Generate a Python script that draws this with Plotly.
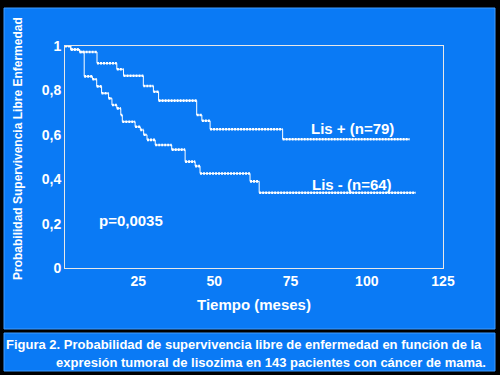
import plotly.graph_objects as go

# ---- data ----
lis_pos_t = [0, 2.9, 5.8, 11.5, 18.0, 20.2, 26.7, 30.0, 31.7, 44.2, 45.9, 48.6, 72.4, 114]
lis_pos_s = [1.0, 0.984, 0.973, 0.922, 0.895, 0.866, 0.820, 0.794, 0.754, 0.689, 0.663, 0.625, 0.580, 0.580]

lis_neg_t = [0, 2.9, 5.8, 7.3, 10.0, 11.4, 13.0, 15.3, 16.4, 18.0, 19.3, 19.8, 24.0, 25.7,
             26.8, 27.9, 30.6, 36.0, 40.4, 43.7, 45.3, 61.7, 64.7, 116]
lis_neg_s = [1.0, 0.984, 0.973, 0.863, 0.850, 0.818, 0.787, 0.764, 0.734, 0.719, 0.689, 0.659,
             0.636, 0.622, 0.600, 0.577, 0.554, 0.533, 0.479, 0.459, 0.426, 0.390, 0.339, 0.339]

x_ticks = [25, 50, 75, 100, 125]
y_ticks = [0, 0.2, 0.4, 0.6, 0.8, 1]
y_ticktext = ["0", "0,2", "0,4", "0,6", "0,8", "1"]

label_pos = "Lis + (n=79)"
label_neg = "Lis - (n=64)"
p_text = "p=0,0035"
x_title = "Tiempo (meses)"
y_title = "Probabilidad Supervivencia Libre Enfermedad"
caption1 = "Figura 2. Probabilidad de supervivencia libre de enfermedad en función de la"
caption2 = "expresión tumoral de lisozima en 143 pacientes con cáncer de mama."

# ---- layout geometry (pixels) ----
W, H = 500, 375
L, R, T, B = 65, 443, 46, 268
PW, PH = R - L, B - T


def px(x):
    return (x - L) / PW


def py(y):
    return (B - y) / PH


FONT = "Arial, Liberation Sans, sans-serif"
BLUE = "#0a7af5"
WHITE = "#ffffff"

fig = go.Figure()


def add_curve(t, s):
    fig.add_trace(go.Scatter(x=t, y=s, mode="lines", line=dict(color=WHITE, width=1, shape="hv"),
                             hoverinfo="skip", showlegend=False))
    hx, hy = [], []
    for i in range(len(t) - 1):
        hx += [t[i], t[i + 1], None]
        hy += [s[i], s[i], None]
    fig.add_trace(go.Scatter(x=hx, y=hy, mode="lines",
                             line=dict(color=WHITE, width=2.6, dash="2px,1px"),
                             hoverinfo="skip", showlegend=False))


add_curve(lis_pos_t, lis_pos_s)
add_curve(lis_neg_t, lis_neg_s)

shapes = [
    dict(type="rect", xref="paper", yref="paper", x0=px(4), x1=px(495), y0=py(329), y1=py(8),
         fillcolor=BLUE, line=dict(color="#3f9bff", width=1), layer="below"),
    dict(type="rect", xref="paper", yref="paper", x0=px(4), x1=px(495), y0=py(371), y1=py(333),
         fillcolor=BLUE, line=dict(color="#3f9bff", width=1), layer="below"),
]

ann = []


def add_text(text, x, y, size, xanchor="center", angle=0):
    ann.append(dict(text="<b>" + text + "</b>", x=px(x), y=py(y), xref="paper", yref="paper",
                    showarrow=False, xanchor=xanchor, yanchor="middle", textangle=angle,
                    font=dict(family=FONT, size=size, color=WHITE)))


add_text(label_pos, 352, 128, 15)
add_text(label_neg, 352, 184, 15)
add_text(p_text, 131, 220, 15)
add_text(x_title, 254, 304, 15)
add_text(y_title, 18, 149, 12, angle=-90)
add_text(caption1, 4, 344, 13, xanchor="left")
add_text(caption2, 488, 362, 13, xanchor="right")

fig.update_layout(
    width=W, height=H,
    margin=dict(l=L, r=W - R, t=T, b=H - B, pad=0),
    paper_bgcolor="black",
    plot_bgcolor="rgba(0,0,0,0)",
    shapes=shapes,
    annotations=ann,
    showlegend=False,
    xaxis=dict(range=[1, 125], tickvals=x_ticks, ticktext=["<b>%d</b>" % v for v in x_ticks],
               showgrid=False, zeroline=False, showline=True, mirror=True,
               linecolor="#e8e8e8", linewidth=1, ticks="",
               tickfont=dict(family=FONT, size=14, color=WHITE), fixedrange=True),
    yaxis=dict(range=[0, 1], tickvals=y_ticks, ticktext=["<b>%s</b>" % v for v in y_ticktext],
               showgrid=False, zeroline=False, showline=True, mirror=True,
               linecolor="#e8e8e8", linewidth=1, ticks="",
               tickfont=dict(family=FONT, size=14, color=WHITE), fixedrange=True),
)

fig.write_html("out.html", config={"displayModeBar": False},
               post_script="document.body.style.margin='0';document.body.style.overflow='hidden';")
